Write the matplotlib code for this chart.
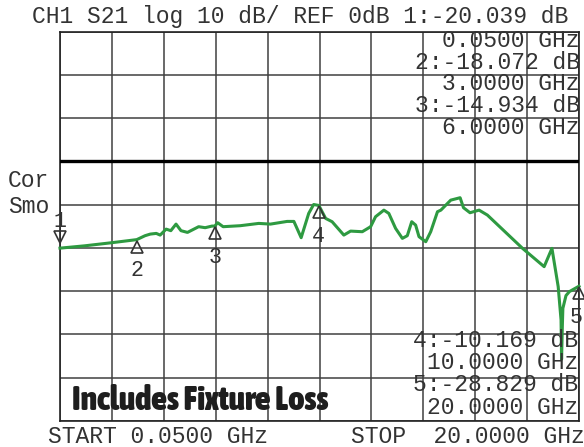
import matplotlib
matplotlib.use("Agg")
import matplotlib.pyplot as plt
from matplotlib import font_manager
from matplotlib.font_manager import FontProperties
from matplotlib.transforms import offset_copy

plt.rcParams["path.simplify"] = False

# S21 trace
freq_ghz = [0.05, 1.0, 2.04, 3.0, 3.32, 3.52, 3.75, 3.90, 4.13, 4.31, 4.51, 4.70,
            4.95, 5.38, 5.63, 5.89, 6.0, 6.11, 6.32, 6.98, 7.69, 8.14, 8.78, 9.04,
            9.32, 9.61, 9.80, 10.0, 10.26, 10.51, 10.96, 11.22, 11.67, 11.99, 12.18,
            12.50, 12.69, 12.95, 13.21, 13.40, 13.57, 13.72, 13.85, 14.11, 14.30,
            14.56, 14.69, 15.07, 15.43, 15.56, 15.81, 16.16, 16.48, 17.83, 18.66,
            18.96, 19.20, 19.31, 19.33, 19.36, 19.38, 19.50, 19.63, 20.0]
s21_db = [-20.04, -19.5, -18.78, -18.07, -17.16, -16.79, -16.63, -17.02, -15.64,
          -16.00, -14.48, -16.00, -16.4, -15.08, -15.31, -14.94, -14.93, -14.16,
          -15.08, -14.85, -14.32, -14.48, -13.86, -13.86, -17.62, -12.01, -9.95,
          -10.17, -13.16, -13.93, -17.02, -16.10, -16.24, -15.08, -12.77, -11.25,
          -12.01, -15.47, -17.78, -17.16, -13.93, -14.71, -17.39, -18.55, -16.24,
          -11.62, -11.25, -8.94, -8.38, -10.69, -11.85, -11.25, -12.40, -20.09,
          -24.32, -20.09, -28.94, -36.65, -45.73, -38.0, -33.95, -31.0, -30.09,
          -28.83]

# markers
marker_ids = ["1", "2", "3", "4", "5"]
marker_freq = [0.05, 3.0, 6.0, 10.0, 20.0]
marker_db = [-20.039, -18.072, -14.934, -10.169, -28.829]

start_ghz, stop_ghz = 0.05, 20.0
ref_db, db_per_div = 0, 10

W, H = 584, 447
mono = "Liberation Mono"
txt_col = "#333333"
fs = 16.6

fig = plt.figure(figsize=(W / 100, H / 100), dpi=100)
ax = fig.add_axes([60 / W, 1 - 421 / H, 519 / W, 389.3 / H])
ax.set_xlim(start_ghz, stop_ghz)
ax.set_ylim(ref_db - 6 * db_per_div, ref_db + 3 * db_per_div)
step = (stop_ghz - start_ghz) / 10
ax.set_xticks([start_ghz + i * step for i in range(11)])
ax.set_yticks(range(-60, 31, 10))
ax.grid(True, color="#404040", lw=1.1)
ax.tick_params(length=0, labelbottom=False, labelleft=False)
for s in ax.spines.values():
    s.set_color("#222222")
    s.set_linewidth(1.2)
ax.axhline(ref_db, color="black", lw=2.4, zorder=3)

ax.plot(freq_ghz, s21_db, color="#2e9a41", lw=2.2, zorder=4, clip_on=False)

# marker triangles + numbers
for i, (mid, f, d) in enumerate(zip(marker_ids, marker_freq, marker_db)):
    dx = -3 if i == len(marker_ids) - 1 else 0
    if i == 0:
        tri = offset_copy(ax.transData, fig=fig, x=0, y=11 * 0.72, units="points")
        lab = offset_copy(ax.transData, fig=fig, x=0, y=27 * 0.72, units="points")
        mk = "v"
    else:
        tri = offset_copy(ax.transData, fig=fig, x=0, y=-7 * 0.72, units="points")
        lab = offset_copy(ax.transData, fig=fig, x=dx * 0.72, y=-31 * 0.72, units="points")
        mk = "^"
    ax.plot([f], [d], marker=mk, ms=8.6, mfc="none", mec=txt_col, mew=1.2,
            transform=tri, clip_on=False, zorder=5)
    ax.text(f, d, mid, transform=lab, ha="center", va="center", family=mono,
            fontsize=fs - 1, color=txt_col, clip_on=False, zorder=5)


def put(x, y, s, ha="left"):
    fig.text(x / W, 1 - y / H, s, ha=ha, va="baseline", family=mono,
             fontsize=fs, color=txt_col)


put(32, 23, f"CH1 S21 log {db_per_div} dB/ REF {ref_db}dB "
            f"{marker_ids[0]}:{marker_db[0]:.3f} dB")
top_lines = [f"{marker_freq[0]:.4f} GHz",
             f"{marker_ids[1]}:{marker_db[1]:.3f} dB", f"{marker_freq[1]:.4f} GHz",
             f"{marker_ids[2]}:{marker_db[2]:.3f} dB", f"{marker_freq[2]:.4f} GHz"]
for k, s in enumerate(top_lines):
    put(580, 47 + k * 21.7, s, ha="right")
bot_lines = [f"{marker_ids[3]}:{marker_db[3]:.3f} dB", f"{marker_freq[3]:.4f} GHz",
             f"{marker_ids[4]}:{marker_db[4]:.3f} dB", f"{marker_freq[4]:.4f} GHz"]
for k, s in enumerate(bot_lines):
    put(578, 347 + k * 22.2, s, ha="right")
put(48, 443, f"START {start_ghz:.4f} GHz")
put(585, 443, f"STOP  {stop_ghz:.4f} GHz", ha="right")
put(8, 187, "Cor")
put(8, 213, "Smo")


# bold condensed note, sized to fit its box
def wnum(w):
    return w if isinstance(w, int) else font_manager.weight_dict.get(w, 400)


cands = [f for f in font_manager.fontManager.ttflist
         if (f.stretch in ("condensed", "semi-condensed", "extra-condensed")
             or "Narrow" in f.name or "Condensed" in f.name)
         and wnum(f.weight) >= 600 and f.style == "normal"]
if cands:
    best = max(cands, key=lambda f: wnum(f.weight))
    note_fp = FontProperties(fname=best.fname)
else:
    note_fp = FontProperties(family="Roboto", weight="bold")
note_fp.set_size(20)
note = fig.text(72 / W, 1 - 410 / H, "Includes Fixture Loss", fontproperties=note_fp,
                color="#1e1e1e", va="baseline")
r = fig.canvas.get_renderer()
wpx = note.get_window_extent(r).width
note.set_fontsize(20 * 256 / wpx)

fig.savefig("out.png", dpi=100)
